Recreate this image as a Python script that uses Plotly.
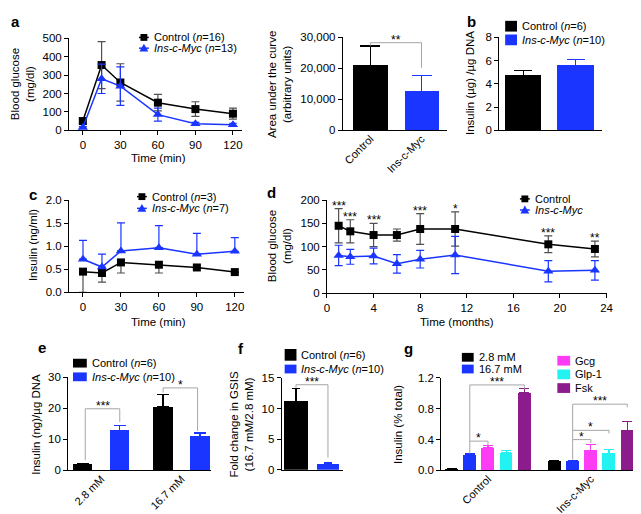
import plotly.graph_objects as go

W, H = 641, 514
FONT = "Liberation Sans"
FS = 11.5
LFS = 11
SFS = 12
BLACK = "#000000"
BLUE = "#1a35ff"
ERRGRAY = "#505050"
BRKGRAY = "#a6a6a6"
PINK = "#ff3cf5"
CYAN = "#22f2f2"
PURPLE = "#8c1c8c"

# ---------------- data ----------------
# a: glucose tolerance test
gtt_time = [0, 15, 30, 60, 90, 120]
gtt_ctrl = [50, 355, 260, 150, 115, 90]
gtt_ctrl_err = [12, 128, 102, 45, 40, 30]
gtt_myc = [15, 280, 240, 85, 35, 30]
gtt_myc_err = [5, 80, 105, 35, 8, 8]

# a (right): area under the curve
auc_labels = ["Control", "Ins-c-Myc"]
auc_vals = [21000, 12600]
auc_err = [6200, 5200]

# b: insulin content
content_vals = [4.7, 5.55]
content_err = [0.45, 0.55]

# c: plasma insulin during GTT
ins_time = [0, 15, 30, 60, 90, 120]
ins_ctrl = [0.45, 0.42, 0.65, 0.60, 0.54, 0.44]
ins_ctrl_err = [0.45, 0.20, 0.23, 0.18, 0.02, 0.02]
ins_myc = [0.72, 0.55, 0.90, 0.97, 0.83, 0.89]
ins_myc_err = [0.41, 0.28, 0.61, 0.48, 0.45, 0.30]

# d: blood glucose with age
age_months = [1, 2, 4, 6, 8, 11, 19, 23]
age_ctrl = [145, 133, 125, 125, 138, 138, 105, 95]
age_ctrl_err = [37, 25, 25, 13, 33, 37, 18, 17]
age_myc = [81, 78, 80, 63, 73, 82, 47, 49]
age_myc_err = [22, 16, 17, 20, 19, 40, 23, 21]
age_stars = ["***", "***", "***", "", "***", "*", "***", "**"]

# e: GSIS
gsis_labels = ["2.8 mM", "16.7 mM"]
gsis_ctrl = [2.0, 20.5]
gsis_ctrl_err = [0.3, 3.9]
gsis_myc = [12.9, 11.0]
gsis_myc_err = [1.5, 1.0]

# f: fold change
fold_vals = [11.2, 1.0]
fold_err = [2.1, 0.1]

# g: secretagogues
sec_labels = ["Control", "Ins-c-Myc"]
sec_names = ["2.8 mM", "16.7 mM", "Gcg", "Glp-1", "Fsk"]
sec_vals = [[0.02, 0.12], [0.20, 0.12], [0.29, 0.26], [0.23, 0.22], [1.01, 0.52]]
sec_err = [[0.004, 0.006], [0.012, 0.006], [0.03, 0.08], [0.03, 0.05], [0.055, 0.12]]
sec_colors = [BLACK, BLUE, PINK, CYAN, PURPLE]


def px(x):
    return x / W


def py(y):
    return 1 - y / H


fig = go.Figure()
layout = {}
shapes, annots = [], []

AX = dict(showgrid=False, zeroline=False, showline=True, linecolor=BLACK, linewidth=1,
          ticks="outside", ticklen=4, tickwidth=1, tickcolor=BLACK,
          tickfont=dict(family=FONT, size=FS, color=BLACK), fixedrange=True)


def axes(n, x0, x1, ytop, ybot, xr, yr, xtv=None, xtt=None, ytv=None, ytt=None,
         xangle=0, xticks="outside", showx=True):
    s = "" if n == 1 else str(n)
    xa = dict(AX, domain=[px(x0), px(x1)], range=xr, anchor="y" + s,
              tickvals=xtv, ticktext=xtt, tickangle=xangle,
              ticks=xticks, showticklabels=showx)
    if xangle:
        xa["tickfont"] = dict(family=FONT, size=11, color=BLACK)
        xa["ticklabelstandoff"] = -3
    layout["xaxis" + s] = xa
    layout["yaxis" + s] = dict(AX, domain=[py(ybot), py(ytop)], range=yr, anchor="x" + s,
                               tickvals=ytv, ticktext=ytt)
    return "x" + s, "y" + s


def note(x, y, s, size=FS, xanchor="center", angle=0):
    annots.append(dict(x=px(x), y=py(y), xref="paper", yref="paper", text=s, showarrow=False,
                       xanchor=xanchor, yanchor="middle", textangle=angle,
                       font=dict(family=FONT, size=size, color=BLACK)))


def legend_line(cx, cy, color, symbol, label):
    shapes.append(dict(type="line", xref="paper", yref="paper", x0=px(cx - 5), x1=px(cx + 5),
                       y0=py(cy), y1=py(cy), line=dict(color=color, width=1.5)))
    if symbol == "square":
        shapes.append(dict(type="rect", xref="paper", yref="paper", x0=px(cx - 3.5), x1=px(cx + 3.5),
                           y0=py(cy + 3.5), y1=py(cy - 3.5), fillcolor=color, line=dict(width=0)))
    else:
        path = "M%f,%f L%f,%f L%f,%f Z" % (px(cx - 4.5), py(cy + 3.5), px(cx + 4.5), py(cy + 3.5),
                                          px(cx), py(cy - 4.5))
        shapes.append(dict(type="path", xref="paper", yref="paper", path=path, fillcolor=color,
                           line=dict(width=0)))
    note(cx + 8, cy, label, size=LFS, xanchor="left")


def legend_box(x0, y0, x1, y1, color, label):
    shapes.append(dict(type="rect", xref="paper", yref="paper", x0=px(x0), x1=px(x1),
                       y0=py(y1), y1=py(y0), fillcolor=color, line=dict(width=0)))
    note(x1 + 3, (y0 + y1) / 2, label, size=LFS, xanchor="left")


def line_series(xa, ya, x, y, err, color, errcolor, symbol, size, up=True, down=True):
    zero = [0] * len(err)
    fig.add_trace(go.Scatter(
        x=x, y=y, mode="lines+markers", xaxis=xa, yaxis=ya, cliponaxis=False, showlegend=False,
        line=dict(color=color, width=1.5),
        marker=dict(symbol=symbol, size=size, color=color, line=dict(width=0)),
        error_y=dict(type="data", symmetric=False, array=err if up else zero,
                     arrayminus=err if down else zero, color=errcolor, thickness=1.2, width=4)))


def bar(xa, ya, x, y, err, color, errcolor, width, capw):
    fig.add_trace(go.Bar(
        x=[x], y=[y], width=width, xaxis=xa, yaxis=ya, showlegend=False,
        marker=dict(color=color, line=dict(width=0)),
        error_y=dict(type="data", symmetric=False, array=[err], arrayminus=[0],
                     color=errcolor, thickness=1.2, width=capw)))


def stars(xa, ya, x, y, label):
    annots.append(dict(x=x, y=y, xref=xa, yref=ya, text=label, showarrow=False,
                       xanchor="center", yanchor="bottom", yshift=-6,
                       font=dict(family=FONT, size=SFS, color=BLACK)))


def bracket(xa, ya, xl, xr, ytop, yl, yr, label):
    fig.add_trace(go.Scatter(x=[xl, xl, xr, xr], y=[yl, ytop, ytop, yr], mode="lines",
                             xaxis=xa, yaxis=ya, showlegend=False, hoverinfo="skip",
                             line=dict(color=BRKGRAY, width=1)))
    stars(xa, ya, (xl + xr) / 2, ytop, label)


# ---------------- panel a: GTT ----------------
xa, ya = axes(1, 59, 235, 25, 119, [-11, 127.5], [0, 500],
              xtv=[0, 30, 60, 90, 120], ytv=[0, 100, 200, 300, 400, 500])
line_series(xa, ya, gtt_time, gtt_ctrl, gtt_ctrl_err, BLACK, ERRGRAY, "square", 8)
line_series(xa, ya, gtt_time, gtt_myc, gtt_myc_err, BLUE, BLUE, "triangle-up", 9)
legend_line(135, 24, BLACK, "square", "Control (<i>n</i>=16)")
legend_line(135, 35, BLUE, "triangle", "<i>Ins-c-Myc</i> (<i>n</i>=13)")
note(12, 72, "Blood glucose<br>(mg/dl)", angle=-90)
note(150, 147, "Time (min)")
note(5, 8, "<b>a</b>", size=15)

# ---------------- panel a: AUC ----------------
xa, ya = axes(2, 337, 443, 24, 119, [-0.54, 1.5], [0, 30000], xtv=[0, 1], xtt=auc_labels,
              ytv=[0, 10000, 20000, 30000], ytt=["0", "10,000", "20,000", "30,000"],
              xangle=-45, xticks="")
bar(xa, ya, 0, auc_vals[0], auc_err[0], BLACK, BLACK, 0.68, 10)
bar(xa, ya, 1, auc_vals[1], auc_err[1], BLUE, BLUE, 0.66, 10)
bracket(xa, ya, 0, 1, 28300, 27300, 20200, "**")
note(273, 72, "Area under the curve<br>(arbitrary units)", angle=-90)

# ---------------- panel b ----------------
xa, ya = axes(3, 496, 600, 24, 119, [-0.46, 1.5], [0, 8], xtv=[], ytv=[0, 2, 4, 6, 8],
              xticks="", showx=False)
bar(xa, ya, 0, content_vals[0], content_err[0], BLACK, BLACK, 0.7, 9)
bar(xa, ya, 1, content_vals[1], content_err[1], BLUE, BLUE, 0.7, 9)
legend_box(502, 7, 514, 18, BLACK, "Control (<i>n</i>=6)")
legend_box(502, 21, 514, 32, BLUE, "<i>Ins-c-Myc</i> (<i>n</i>=10)")
note(467, 71, "Insulin (µg) /µg DNA", angle=-90)
note(468, 8, "<b>b</b>", size=15)

# ---------------- panel c ----------------
xa, ya = axes(4, 59, 237, 190.7, 285, [-11, 127.5], [0, 2],
              xtv=[0, 30, 60, 90, 120], ytv=[0, 0.5, 1, 1.5, 2],
              ytt=["0.0", "0.5", "1.0", "1.5", "2.0"])
line_series(xa, ya, ins_time, ins_ctrl, ins_ctrl_err, BLACK, ERRGRAY, "square", 8, up=False)
line_series(xa, ya, ins_time, ins_myc, ins_myc_err, BLUE, BLUE, "triangle-up", 9, down=False)
legend_line(133, 187, BLACK, "square", "Control (<i>n</i>=3)")
legend_line(133, 199, BLUE, "triangle", "<i>Ins-c-Myc</i> (<i>n</i>=7)")
note(23, 237, "Insulin (ng/ml)", angle=-90)
note(150, 315, "Time (min)")
note(22, 185, "<b>c</b>", size=15)

# ---------------- panel d ----------------
xa, ya = axes(5, 321, 605, 190.7, 285.7, [0, 24], [0, 200],
              xtv=[0, 4, 8, 12, 16, 20, 24], ytv=[0, 50, 100, 150, 200])
line_series(xa, ya, age_months, age_ctrl, age_ctrl_err, BLACK, ERRGRAY, "square", 8)
line_series(xa, ya, age_months, age_myc, age_myc_err, BLUE, BLUE, "triangle-up", 9)
for m, v, e, s in zip(age_months, age_ctrl, age_ctrl_err, age_stars):
    if s:
        stars(xa, ya, m, v + e, s)
legend_line(522, 189.3, BLACK, "square", "Control")
legend_line(522, 200.7, BLUE, "triangle", "<i>Ins-c-Myc</i>")
note(273, 238, "Blood glucose<br>(mg/dl)", angle=-90)
note(453, 315, "Time (months)")
note(265, 183, "<b>d</b>", size=15)

# ---------------- panel e ----------------
xa, ya = axes(6, 58, 203, 371.7, 467.3, [-0.414, 1.365], [0, 30], xtv=[0, 1], xtt=gsis_labels,
              ytv=[0, 10, 20, 30], xangle=-45, xticks="")
for i in range(2):
    bar(xa, ya, i - 0.23, gsis_ctrl[i], gsis_ctrl_err[i], BLACK, BLACK, 0.24, 6)
    bar(xa, ya, i + 0.23, gsis_myc[i], gsis_myc_err[i], BLUE, BLUE, 0.24, 6)
bracket(xa, ya, -0.2, 0.23, 19.8, 3.3, 15.5, "***")
bracket(xa, ya, 1 - 0.23, 1 + 0.2, 26.5, 25.0, 12.7, "*")
legend_box(63, 353, 77, 362, BLACK, "Control (<i>n</i>=6)")
legend_box(63, 367, 77, 376, BLUE, "<i>Ins-c-Myc</i> (<i>n</i>=10)")
note(26, 420, "Insulin (ng)/µg DNA", angle=-90)
note(31, 341, "<b>e</b>", size=15)

# ---------------- panel f ----------------
xa, ya = axes(7, 275, 337, 372.7, 466.7, [-0.446, 1.462], [0, 15], xtv=[], ytv=[0, 5, 10, 15],
              xticks="", showx=False)
bar(xa, ya, 0, fold_vals[0], fold_err[0], BLACK, BLACK, 0.76, 4)
bar(xa, ya, 1, fold_vals[1], fold_err[1], BLUE, BLUE, 0.7, 4)
bracket(xa, ya, 0, 1, 13.9, 13.4, 2.0, "***")
legend_box(278, 343, 290, 355, BLACK, "Control (<i>n</i>=6)")
legend_box(278, 359, 290, 368, BLUE, "<i>Ins-c-Myc</i> (<i>n</i>=10)")
note(234, 420, "Fold change in GSIS<br>(16.7 mM/2.8 mM)", angle=-90)
note(234, 342, "<b>f</b>", size=15)

# ---------------- panel g ----------------
xa, ya = axes(8, 437, 637, 372.7, 467.3, [-0.455, 1.459], [0, 1.2], xtv=[0, 1], xtt=sec_labels,
              ytv=[0, 0.4, 0.8, 1.2], ytt=["0.0", "0.4", "0.8", "1.2"], xangle=-45, xticks="")
slot = 0.177
for k in range(5):
    for i in range(2):
        bar(xa, ya, i + (k - 2) * slot, sec_vals[k][i], sec_err[k][i], sec_colors[k],
            sec_colors[k], 0.125, 5)
# control group
bracket(xa, ya, -slot, 0, 0.38, 0.22, 0.33, "*")
bracket(xa, ya, -slot, 2 * slot, 1.11, 0.38, 1.06, "***")
# Ins-c-Myc group
bracket(xa, ya, 1 - slot, 1, 0.40, 0.14, 0.355, "*")
bracket(xa, ya, 1 - slot, 1 + slot, 0.52, 0.40, 0.48, "*")
bracket(xa, ya, 1 - slot, 1 + 2 * slot, 0.86, 0.52, 0.82, "***")
legend_box(458, 347, 470, 356, BLACK, "2.8 mM")
legend_box(458, 359, 470, 368, BLUE, "16.7 mM")
legend_box(555, 350, 568, 360, PINK, "Gcg")
legend_box(555, 364, 568, 374, CYAN, "Glp-1")
legend_box(555, 378, 568, 388, PURPLE, "Fsk")
note(393, 420, "Insulin (% total)", angle=-90)
note(404, 343, "<b>g</b>", size=15)

fig.update_layout(
    width=W, height=H, margin=dict(l=0, r=0, t=0, b=0),
    paper_bgcolor="white", plot_bgcolor="white",
    font=dict(family=FONT, size=FS, color=BLACK),
    showlegend=False, bargap=0,
    shapes=shapes, annotations=annots, **layout)

fig.write_html("out.html")
